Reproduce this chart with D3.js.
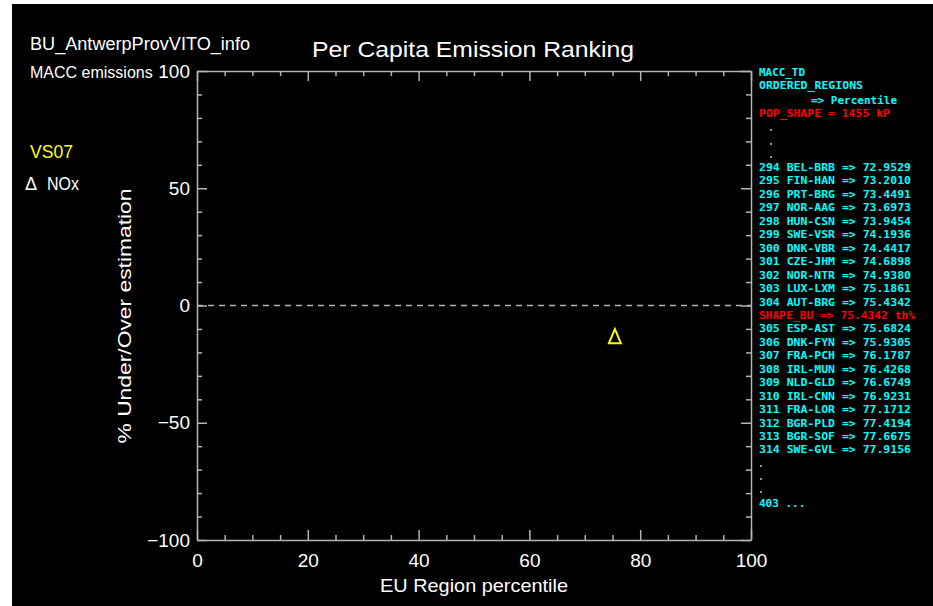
<!DOCTYPE html>
<html>
<head>
<meta charset="utf-8">
<script src="https://cdn.jsdelivr.net/npm/d3@7"></script>
<style>
  html, body { margin: 0; padding: 0; background: #ffffff; }
  svg { display: block; }
</style>
</head>
<body>
<script>
// ---------------- DATA ----------------
const xTicksMajor = [0, 20, 40, 60, 80, 100];
const yTicksMajor = [-100, -50, 0, 50, 100];
const xDomain = [0, 100];
const yDomain = [-100, 100];

const seriesName = "NOx";
const scenarioName = "VS07";
const pointX = [75.4342];     // percentile of SHAPE_BU
const pointY = [-13.5];       // % under/over estimation

const regionRanks = [294, 295, 296, 297, 298, 299, 300, 301, 302, 303, 304,
                     305, 306, 307, 308, 309, 310, 311, 312, 313, 314];
const regionCodes = ["BEL-BRB", "FIN-HAN", "PRT-BRG", "NOR-AAG", "HUN-CSN", "SWE-VSR",
                     "DNK-VBR", "CZE-JHM", "NOR-NTR", "LUX-LXM", "AUT-BRG",
                     "ESP-AST", "DNK-FYN", "FRA-PCH", "IRL-MUN", "NLD-GLD", "IRL-CNN",
                     "FRA-LOR", "BGR-PLD", "BGR-SOF", "SWE-GVL"];
const regionPercentiles = ["72.9529", "73.2010", "73.4491", "73.6973", "73.9454", "74.1936",
                           "74.4417", "74.6898", "74.9380", "75.1861", "75.4342",
                           "75.6824", "75.9305", "76.1787", "76.4268", "76.6749", "76.9231",
                           "77.1712", "77.4194", "77.6675", "77.9156"];
const shapeLabel = "SHAPE_BU => 75.4342 th%";
const shapeAfterRank = 304;
const popShape = "POP_SHAPE = 1455 kP";
const totalRegions = 403;

// ---------------- LAYOUT ----------------
const W = 933, H = 606;
const svg = d3.select("body").append("svg").attr("width", W).attr("height", H);

svg.append("rect").attr("x", 0).attr("y", 0).attr("width", W).attr("height", H).attr("fill", "#ffffff");
svg.append("rect").attr("x", 12).attr("y", 4).attr("width", W - 12).attr("height", H - 4).attr("fill", "#000000");

const pl = 197, pr = 751, pt = 71, pb = 540;
const x = d3.scaleLinear().domain(xDomain).range([pl, pr]);
const y = d3.scaleLinear().domain(yDomain).range([pb, pt]);

const axisCol = "#b4b4b4";
const textFont = "'Liberation Sans', Arial, sans-serif";
const monoFont = "'DejaVu Sans Mono', 'Liberation Mono', monospace";

function styleAxis(g) {
  g.selectAll("path.domain").attr("stroke", axisCol).attr("stroke-width", 1.5);
  g.selectAll(".tick line").attr("stroke", axisCol).attr("stroke-width", 1.5);
  g.selectAll(".tick text").attr("fill", "#ffffff").attr("font-family", textFont).attr("font-size", 19);
}

const xMinor = d3.range(0, 101, 5).filter(v => v % 20 !== 0);
const yMinor = d3.range(-100, 101, 10).filter(v => v % 50 !== 0);

// bottom
const gB = svg.append("g").attr("transform", `translate(0,${pb})`)
  .call(d3.axisBottom(x).tickValues(xTicksMajor).tickSizeInner(-10).tickSizeOuter(0).tickPadding(14).tickFormat(d3.format("d")));
styleAxis(gB);
svg.append("g").attr("transform", `translate(0,${pb})`)
  .call(d3.axisBottom(x).tickValues(xMinor).tickSizeInner(-5).tickSizeOuter(0).tickFormat(""))
  .call(g => { g.select("path.domain").remove(); styleAxis(g); });
// top
const gT = svg.append("g").attr("transform", `translate(0,${pt})`)
  .call(d3.axisTop(x).tickValues(xTicksMajor).tickSizeInner(-10).tickSizeOuter(0).tickFormat(""));
styleAxis(gT);
svg.append("g").attr("transform", `translate(0,${pt})`)
  .call(d3.axisTop(x).tickValues(xMinor).tickSizeInner(-5).tickSizeOuter(0).tickFormat(""))
  .call(g => { g.select("path.domain").remove(); styleAxis(g); });
// left
const gL = svg.append("g").attr("transform", `translate(${pl},0)`)
  .call(d3.axisLeft(y).tickValues(yTicksMajor).tickSizeInner(-10).tickSizeOuter(0).tickPadding(7).tickFormat(d => d < 0 ? "\u2212" + Math.abs(d) : String(d)));
styleAxis(gL);
svg.append("g").attr("transform", `translate(${pl},0)`)
  .call(d3.axisLeft(y).tickValues(yMinor).tickSizeInner(-5).tickSizeOuter(0).tickFormat(""))
  .call(g => { g.select("path.domain").remove(); styleAxis(g); });
// right
const gR = svg.append("g").attr("transform", `translate(${pr},0)`)
  .call(d3.axisRight(y).tickValues(yTicksMajor).tickSizeInner(-10).tickSizeOuter(0).tickFormat(""));
styleAxis(gR);
svg.append("g").attr("transform", `translate(${pr},0)`)
  .call(d3.axisRight(y).tickValues(yMinor).tickSizeInner(-5).tickSizeOuter(0).tickFormat(""))
  .call(g => { g.select("path.domain").remove(); styleAxis(g); });

// zero dashed line
svg.append("line")
  .attr("x1", x(xDomain[0])).attr("x2", x(xDomain[1]))
  .attr("y1", y(0)).attr("y2", y(0))
  .attr("stroke", axisCol).attr("stroke-width", 1.5).attr("stroke-dasharray", "6,5");

// triangle marker
const tri = (cx, cy) => {
  const p = d3.path();
  p.moveTo(cx, cy - 8); p.lineTo(cx + 6, cy + 6); p.lineTo(cx - 6, cy + 6); p.closePath();
  return p.toString();
};
svg.append("g").selectAll("path").data(pointX.map((v, i) => [v, pointY[i]])).join("path")
  .attr("d", d => tri(x(d[0]), y(d[1])))
  .attr("fill", "none").attr("stroke", "#ffff00").attr("stroke-width", 2);

// texts
function txt(s, px, py, opts = {}) {
  const t = svg.append("text").attr("x", px).attr("y", py).text(s)
    .attr("fill", opts.fill || "#ffffff")
    .attr("font-family", opts.font || textFont)
    .attr("font-size", opts.size || 18)
    .attr("font-weight", opts.weight || "normal")
    .attr("text-anchor", opts.anchor || "start");
  if (opts.len) t.attr("textLength", opts.len).attr("lengthAdjust", "spacingAndGlyphs");
  if (opts.rotate) t.attr("transform", `rotate(${opts.rotate},${px},${py})`);
  return t;
}

txt("BU_AntwerpProvVITO_info", 30, 50, { size: 18, len: 220 });
txt("MACC emissions", 30, 78, { size: 16 });
txt("Per Capita Emission Ranking", 473, 57, { size: 22, anchor: "middle", len: 322 });
txt(scenarioName, 30, 158, { size: 18, fill: "#ffff00", len: 43 });
txt("\u0394", 25, 190, { size: 18 });
txt(seriesName, 47, 190, { size: 18, len: 32 });
txt("% Under/Over estimation", 131, 316, { size: 19, anchor: "middle", rotate: -90, len: 255 });
txt("EU Region percentile", (pl + pr) / 2, 592, { size: 19, anchor: "middle", len: 188 });

// right list
const cyan = "#00ffff", red = "#ff0000";
const lx = 759, ls = 13.45;
const mono = { font: monoFont, size: 11, fill: cyan, weight: "bold" };
txt("MACC_TD", lx, 76, { ...mono, len: 46 });
txt("ORDERED_REGIONS", lx, 89, { ...mono, len: 104 });
txt("=> Percentile", 811, 104, { ...mono, len: 86 });
txt(popShape, lx, 117, { ...mono, fill: red, len: 131 });
[130, 144, 157].forEach(yy => svg.append("circle").attr("cx", 771).attr("cy", yy).attr("r", 0.9).attr("fill", "#dddddd"));

let yy = 171;
regionRanks.forEach((r, i) => {
  txt(`${r} ${regionCodes[i]} => ${regionPercentiles[i]}`, lx, yy, { ...mono, len: 152 });
  yy += ls;
  if (r === shapeAfterRank) {
    txt(shapeLabel, lx, yy, { ...mono, fill: red, len: 156 });
    yy += ls;
  }
});
[466, 479, 492].forEach(v => svg.append("circle").attr("cx", 761).attr("cy", v).attr("r", 0.9).attr("fill", "#dddddd"));
txt(`${totalRegions} ...`, lx, 507, mono);
</script>
</body>
</html>
